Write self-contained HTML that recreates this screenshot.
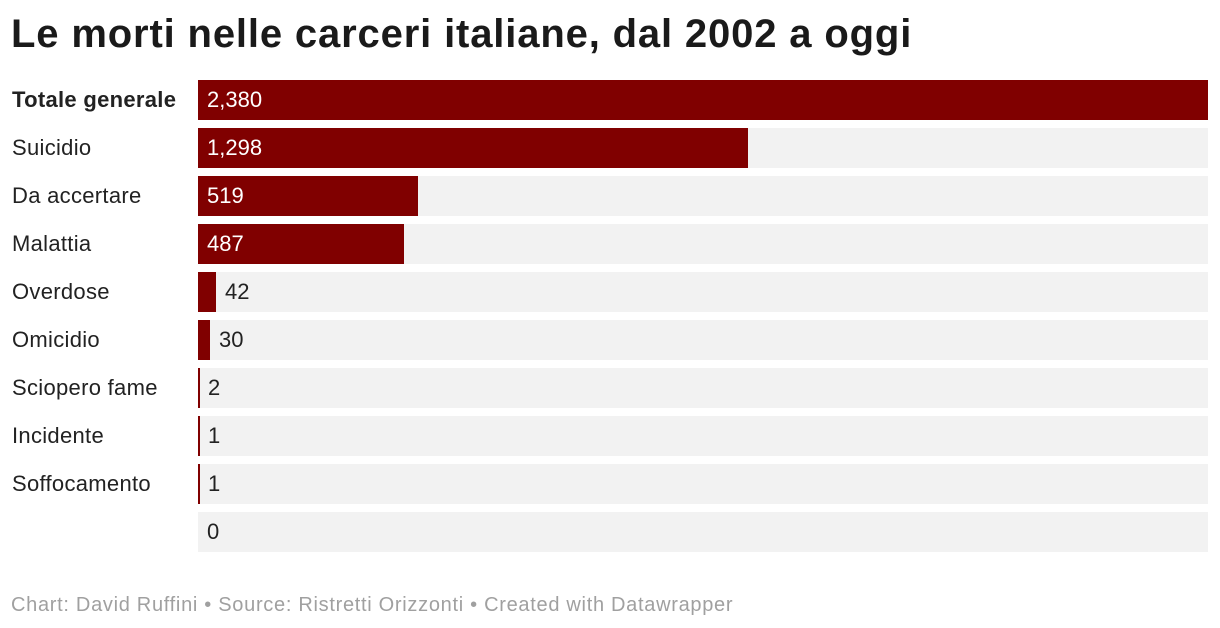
<!DOCTYPE html>
<html><head><meta charset="utf-8"><style>
body{margin:0;width:1220px;height:628px;background:#fff;font-family:"Liberation Sans",sans-serif;position:relative;overflow:hidden}
.t{position:absolute;left:11px;top:12px;font-size:40px;font-weight:bold;color:#1a1a1a;letter-spacing:0.85px}
.l{position:absolute;left:12px;font-size:22px;color:#222;height:40px;line-height:40px;letter-spacing:0.3px}
.bg{position:absolute;left:198px;width:1010px;height:40px;background:#f2f2f2}
.b{position:absolute;left:198px;height:40px;background:#800000}
.v{position:absolute;font-size:22px;height:40px;line-height:40px}
.f{position:absolute;left:11px;top:594px;font-size:20px;color:#a0a0a0;letter-spacing:0.7px}
</style></head><body>
<div class="t">Le morti nelle carceri italiane, dal 2002 a oggi</div>

<div class="l" style="top:80px;font-weight:bold">Totale generale</div>
<div class="bg" style="top:80px"></div><div class="b" style="top:80px;width:1010px"></div>
<div class="v" style="top:80px;left:207px;color:#fff">2,380</div>

<div class="l" style="top:128px">Suicidio</div>
<div class="bg" style="top:128px"></div><div class="b" style="top:128px;width:550px"></div>
<div class="v" style="top:128px;left:207px;color:#fff">1,298</div>

<div class="l" style="top:176px">Da accertare</div>
<div class="bg" style="top:176px"></div><div class="b" style="top:176px;width:220px"></div>
<div class="v" style="top:176px;left:207px;color:#fff">519</div>

<div class="l" style="top:224px">Malattia</div>
<div class="bg" style="top:224px"></div><div class="b" style="top:224px;width:206px"></div>
<div class="v" style="top:224px;left:207px;color:#fff">487</div>

<div class="l" style="top:272px">Overdose</div>
<div class="bg" style="top:272px"></div><div class="b" style="top:272px;width:18px"></div>
<div class="v" style="top:272px;left:225px;color:#222">42</div>

<div class="l" style="top:320px">Omicidio</div>
<div class="bg" style="top:320px"></div><div class="b" style="top:320px;width:12px"></div>
<div class="v" style="top:320px;left:219px;color:#222">30</div>

<div class="l" style="top:368px">Sciopero fame</div>
<div class="bg" style="top:368px"></div><div class="b" style="top:368px;width:2px"></div>
<div class="v" style="top:368px;left:208px;color:#222">2</div>

<div class="l" style="top:416px">Incidente</div>
<div class="bg" style="top:416px"></div><div class="b" style="top:416px;width:2px"></div>
<div class="v" style="top:416px;left:208px;color:#222">1</div>

<div class="l" style="top:464px">Soffocamento</div>
<div class="bg" style="top:464px"></div><div class="b" style="top:464px;width:2px"></div>
<div class="v" style="top:464px;left:208px;color:#222">1</div>

<div class="bg" style="top:512px"></div>
<div class="v" style="top:512px;left:207px;color:#222">0</div>

<div class="f">Chart: David Ruffini • Source: Ristretti Orizzonti • Created with Datawrapper</div>
</body></html>
